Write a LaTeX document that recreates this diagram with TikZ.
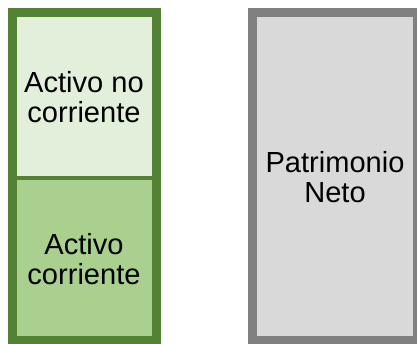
\documentclass[tikz,border=0pt]{standalone}
\usepackage{fontspec}
\setmainfont{Liberation Sans}
\definecolor{dkgreen}{HTML}{548235}
\definecolor{ltgreen}{HTML}{E2EFDA}
\definecolor{mdgreen}{HTML}{A9D08E}
\definecolor{gborder}{HTML}{808080}
\definecolor{gfill}{HTML}{D9D9D9}
\begin{document}
\begin{tikzpicture}[x=0.75pt,y=-0.75pt,
  lbl/.style={align=center,font=\fontsize{21.8pt}{22.5pt}\selectfont,inner sep=0pt}]
\useasboundingbox (0,0) rectangle (417,343);
\clip (0,0) rectangle (417,343);
% left column
\fill[ltgreen] (12.5,12.5) rectangle (156.5,178);
\fill[mdgreen] (12.5,178) rectangle (156.5,345);
\draw[dkgreen,line width=3pt] (12.5,178) -- (156.5,178);
\draw[dkgreen,line width=6.75pt] (12.5,12.5) rectangle (156.5,340.5);
% right column
\draw[gborder,fill=gfill,line width=6.75pt] (252.5,12.5) rectangle (417.5,340.5);
% labels
\node[lbl] (anc) at (84,97) {Activo no\\corriente};
\node[lbl] (ac) at (84,259) {Activo\\corriente};
\node[lbl] (pn) at (335,177) {Patrimonio\\Neto};
\end{tikzpicture}
\end{document}
